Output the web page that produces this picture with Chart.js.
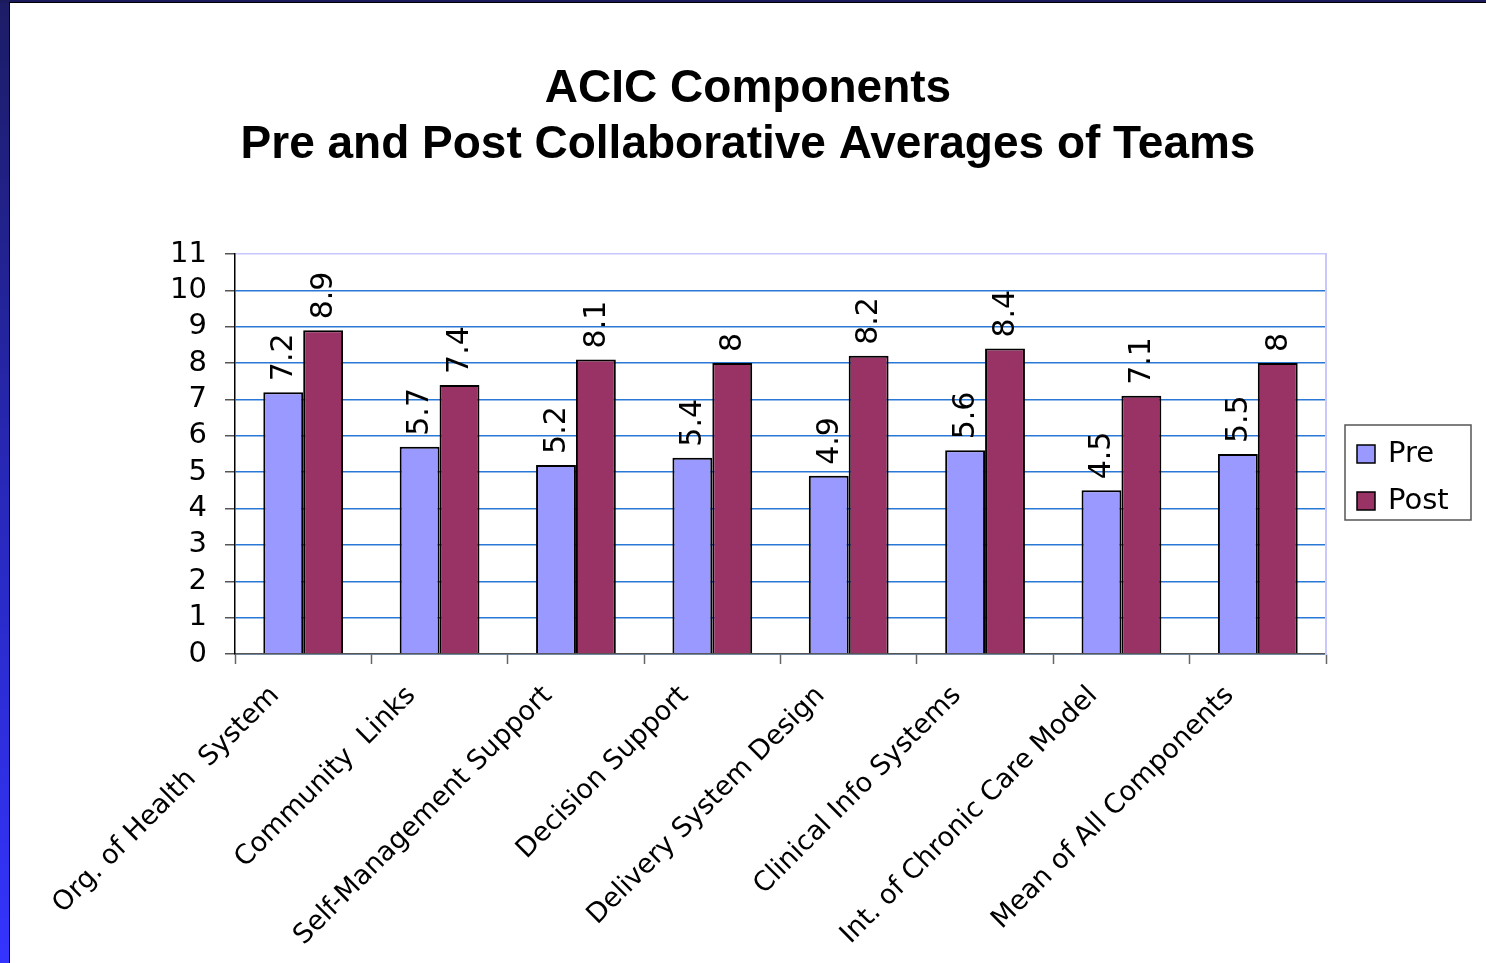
<!DOCTYPE html>
<html>
<head>
<meta charset="utf-8">
<script src="https://cdn.jsdelivr.net/npm/chart.js@4"></script>
<style>
  html, body { margin: 0; padding: 0; }
  body {
    width: 1486px; height: 963px; overflow: hidden; position: relative;
    background: linear-gradient(to bottom, #1c1c66 0%, #2828b8 50%, #3434ff 100%);
  }
  #topbar { position: absolute; left: 0; top: 0; width: 1486px; height: 3px; background: #1a1a5c; }
  #frame {
    position: absolute; left: 9px; top: 2px; width: 1477px; height: 961px;
    background: #000;
  }
  #usage { position: absolute; left: 10px; top: 3px; background: #fff; }
</style>
</head>
<body>
<div id="topbar"></div>
<div id="frame"></div>
<canvas id="usage" width="1476" height="960"></canvas>
<script>
// chart values
const categories = ['Org. of Health  System', 'Community  Links', 'Self-Management Support', 'Decision Support',
  'Delivery System Design', 'Clinical Info Systems', 'Int. of Chronic Care Model', 'Mean of All Components'];
const preValues = [7.2, 5.7, 5.2, 5.4, 4.9, 5.6, 4.5, 5.5];
const postValues = [8.9, 7.4, 8.1, 8, 8.2, 8.4, 7.1, 8];
const seriesNames = ['Pre', 'Post'];
const yMin = 0;
const yMax = 11;

const FONT = 'DejaVu Sans';

// value labels turned upright above each bar
const barLabels = {
  id: 'barLabels',
  afterDatasetsDraw(chart) {
    const ctx = chart.ctx;
    ctx.save();
    ctx.font = '30px "' + FONT + '"';
    ctx.fillStyle = '#000';
    ctx.textAlign = 'left';
    ctx.textBaseline = 'middle';
    chart.data.datasets.forEach((ds, i) => {
      chart.getDatasetMeta(i).data.forEach((bar, j) => {
        ctx.save();
        ctx.translate(bar.x + 1, bar.y - 11);
        ctx.rotate(-Math.PI / 2);
        ctx.fillText(String(ds.data[j]), 0, 0);
        ctx.restore();
      });
    });
    ctx.restore();
  }
};

// boxed legend at the right
const boxLegend = {
  id: 'boxLegend',
  afterDraw(chart) {
    const ctx = chart.ctx;
    ctx.save();
    const lx = 1335, ly = 422, lw = 126, lh = 95;
    ctx.fillStyle = '#fff';
    ctx.fillRect(lx, ly, lw, lh);
    ctx.strokeStyle = '#555';
    ctx.lineWidth = 1.5;
    ctx.strokeRect(lx, ly, lw, lh);
    ctx.font = '29px "' + FONT + '"';
    ctx.textBaseline = 'middle';
    ctx.textAlign = 'left';
    chart.data.datasets.forEach((ds, i) => {
      const cy = ly + 29 + i * 47;
      ctx.fillStyle = ds.backgroundColor;
      ctx.fillRect(lx + 12, cy - 9, 18, 18);
      ctx.strokeStyle = '#000';
      ctx.lineWidth = 1.5;
      ctx.strokeRect(lx + 12, cy - 9, 18, 18);
      ctx.fillStyle = '#000';
      ctx.fillText(ds.label, lx + 43, cy);
    });
    ctx.restore();
  }
};

const usage = document.getElementById('usage').getContext('2d');
const chart = new Chart(usage, {
  type: 'bar',
  data: {
    labels: categories,
    datasets: [{
      label: seriesNames[0],
      data: preValues,
      backgroundColor: '#9999ff',
      borderColor: '#000',
      borderWidth: 2,
      borderSkipped: 'bottom'
    }, {
      label: seriesNames[1],
      data: postValues,
      backgroundColor: '#993366',
      borderColor: '#000',
      borderWidth: 2,
      borderSkipped: 'bottom'
    }]
  },
  options: {
    responsive: false,
    animation: false,
    devicePixelRatio: 1,
    layout: { padding: 0 },
    datasets: {
      bar: { categoryPercentage: 0.585, barPercentage: 1 }
    },
    scales: {
      x: {
        offset: true,
        grid: {
          offset: true,
          drawOnChartArea: false,
          drawTicks: true,
          tickLength: 10,
          tickColor: '#666',
          tickWidth: 1.5
        },
        border: { color: '#555', width: 1.5 },
        ticks: {
          autoSkip: false,
          maxRotation: 45,
          minRotation: 45,
          padding: 16,
          labelOffset: -28,
          color: '#000',
          font: { family: FONT, size: 27 }
        },
        afterFit(scale) { scale.height = 309; }
      },
      y: {
        min: yMin,
        max: yMax,
        ticks: {
          stepSize: 1,
          autoSkip: false,
          padding: 18,
          color: '#000',
          font: { family: FONT, size: 29 }
        },
        grid: {
          color: ctx => ctx.tick.value === yMax ? '#c8c8ff' : '#2a78d6',
          lineWidth: 1.5,
          tickLength: 10,
          tickColor: '#555'
        },
        border: { color: '#000', width: 1.5 },
        afterFit(scale) { scale.width = 225; }
      },
      // empty right axis: reserves room for the legend and draws the plot's right edge
      yRight: {
        position: 'right',
        min: yMin,
        max: yMax,
        ticks: { display: false },
        grid: { drawOnChartArea: false, drawTicks: false },
        border: { color: '#c8c8ff', width: 2 },
        afterFit(scale) { scale.width = 160; }
      }
    },
    plugins: {
      legend: { display: false },
      tooltip: { enabled: false },
      title: {
        display: true,
        text: ['ACIC Components', 'Pre and Post Collaborative Averages of Teams'],
        color: '#000',
        font: { family: 'Liberation Sans', size: 46, weight: 'bold', lineHeight: 56 / 46 },
        padding: { top: 58, bottom: 81 }
      }
    }
  },
  plugins: [barLabels, boxLegend]
});
</script>
</body>
</html>
